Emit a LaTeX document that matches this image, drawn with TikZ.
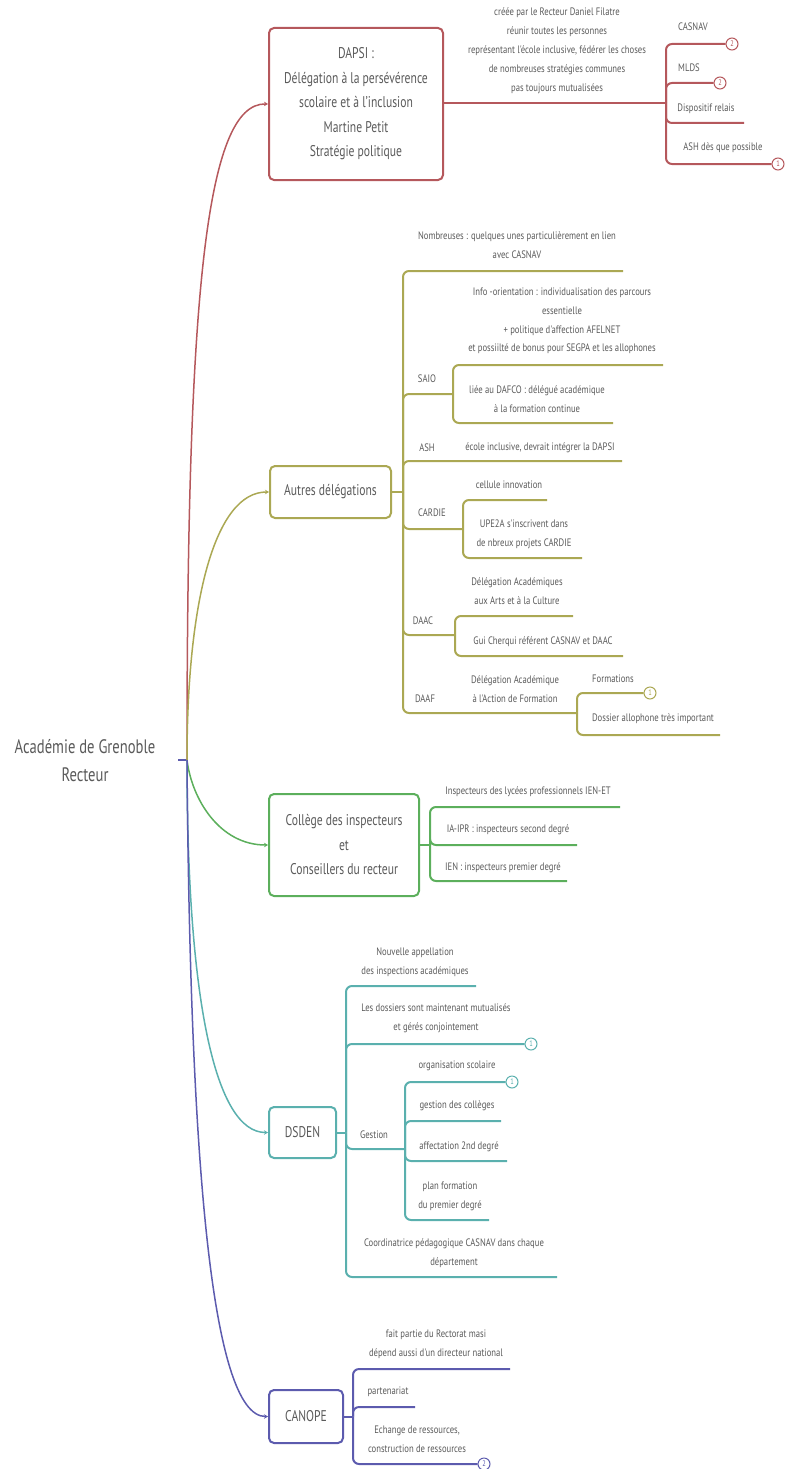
\documentclass[tikz,border=0pt]{standalone}
\usepackage{fontspec}
\setmainfont{PT Sans}[FakeStretch=0.75]
\newfontfamily\leaffont{PT Sans}[FakeStretch=0.8]
\usetikzlibrary{arrows.meta}
\definecolor{cR}{HTML}{B5585C}
\definecolor{cO}{HTML}{ABA853}
\definecolor{cG}{HTML}{5CAF5C}
\definecolor{cT}{HTML}{5AB0AE}
\definecolor{cI}{HTML}{5C5BAE}
\definecolor{txt}{HTML}{5A5A5A}
\tikzset{
  x=1pt, y=-1pt,
  every node/.style={text=txt, inner sep=0pt},
  leaf/.style={align=center, font=\leaffont\fontsize{10.8}{19}\selectfont},
  mainbox/.style={draw, rounded corners=5pt, line width=2pt, align=center, font=\fontsize{15.5}{24.5}\selectfont},
  branch/.style={line width=2pt, rounded corners=6pt},
  curve/.style={line width=1.5pt, -{Stealth[length=4pt,width=4.5pt]}},
  badge/.style={circle, draw, fill=white, line width=1pt, minimum size=12pt, font=\leaffont\fontsize{8}{8}\selectfont},
}
\begin{document}
\begin{tikzpicture}
\useasboundingbox (0,0) rectangle (786,1469);
% root
\node[align=center, font=\fontsize{19.5}{28}\selectfont] (root) at (85,761) {Académie de Grenoble\\Recteur};
\coordinate (rootR) at (187,760);
\coordinate (rootL) at (178,760);
\draw[cI, line width=2pt] (rootL) -- (rootR);

% main boxes
\node[mainbox, draw=cR, minimum width=174pt, minimum height=152pt] (dapsi) at (356,104)
  {DAPSI :\\Délégation à la persévérence\\scolaire et à l'inclusion\\Martine Petit\\Stratégie politique};
\node[mainbox, draw=cO, minimum width=121pt, minimum height=52pt] (autres) at (330.5,492) {Autres délégations};
\node[mainbox, draw=cG, minimum width=150pt, minimum height=102pt] (college) at (344,845)
  {Collège des inspecteurs\\et\\Conseillers du recteur};
\node[mainbox, draw=cT, minimum width=67pt, minimum height=51pt] (dsden) at (302.5,1132.5) {DSDEN};
\node[mainbox, draw=cI, minimum width=74pt, minimum height=53pt] (canope) at (306,1416.5) {CANOPE};

% curves from root
\draw[cR, curve] (rootR) .. controls (187,300) and (205,103) .. (dapsi.west);
\draw[cO, curve] (rootR) .. controls (187,600) and (215,492) .. (autres.west);
\draw[cG, curve] (rootR) .. controls (192,800) and (220,845) .. (college.west);
\draw[cT, curve] (rootR) .. controls (187,1000) and (215,1132.5) .. (dsden.west);
\draw[cI, curve] (rootR) .. controls (190,1150) and (210,1416.5) .. (canope.west);

% ===== DAPSI =====
\node[leaf] (dapsidesc) at (557,51) {créée par le Recteur Daniel Filatre\\réunir toutes les personnes\\représentant l'école inclusive, fédérer les choses\\de nombreuses stratégies communes\\pas toujours mutualisées};
\coordinate (dB) at (666,103);
\draw[cR, branch] (dapsi.east |- dB) -- (dB);
\node[leaf] (casnav) at (693,27) {CASNAV};
\node[badge, draw=cR, text=cR] (bcasnav) at (732,44) {2};
\draw[cR, branch] (dB) |- (bcasnav.west);
\node[leaf] (mlds) at (689,68) {MLDS};
\node[badge, draw=cR, text=cR] (bmlds) at (720,83) {2};
\draw[cR, branch] (dB) |- (bmlds.west);
\node[leaf] (relais) at (706,109) {Dispositif relais};
\coordinate (erelais) at (744,123);
\draw[cR, branch] (dB) |- (erelais);
\node[leaf] (ashd) at (723,148) {ASH dès que possible};
\node[badge, draw=cR, text=cR] (bashd) at (778,164) {1};
\draw[cR, branch] (dB) |- (bashd.west);

% ===== Autres délégations =====
\coordinate (aB) at (403,492);
\draw[cO, branch] (autres.east) -- (aB);
\node[leaf] (nomb) at (517,245.5) {Nombreuses : quelques unes particulièrement en lien\\avec CASNAV};
\coordinate (enomb) at (623,271);
\draw[cO, branch] (aB) |- (enomb);
% SAIO
\node[leaf] (saio) at (427,379) {SAIO};
\coordinate (sB) at (453,394);
\draw[cO, branch] (aB) |- (sB);
\node[leaf, font=\leaffont\fontsize{10.8}{18.7}\selectfont] (info) at (562,321) {Info -orientation : individualisation des parcours\\essentielle\\+ politique d'affection AFELNET\\et possiilté de bonus pour SEGPA et les allophones};
\coordinate (einfo) at (663,365);
\draw[cO, branch] (sB) |- (einfo);
\node[leaf] (dafco) at (537,399.5) {liée au DAFCO : délégué académique\\à la formation continue};
\coordinate (edafco) at (613,423);
\draw[cO, branch] (sB) |- (edafco);
% ASH
\node[leaf] (ash) at (427,448) {ASH};
\node[leaf] (ecole) at (540,448) {école inclusive, devrait intégrer la DAPSI};
\coordinate (eash) at (622,461);
\draw[cO, branch] (aB) |- (eash);
% CARDIE
\node[leaf] (cardie) at (432,513) {CARDIE};
\coordinate (cB) at (463,529);
\draw[cO, branch] (aB) |- (cB);
\node[leaf] (cellule) at (509,485) {cellule innovation};
\coordinate (ecell) at (547,500);
\draw[cO, branch] (cB) |- (ecell);
\node[leaf] (upe) at (524,534) {UPE2A s'inscrivent dans\\de nbreux projets CARDIE};
\coordinate (eupe) at (582,558);
\draw[cO, branch] (cB) |- (eupe);
% DAAC
\node[leaf] (daac) at (423,621) {DAAC};
\coordinate (dcB) at (455,635);
\draw[cO, branch] (aB) |- (dcB);
\node[leaf] (daacd) at (517,591.5) {Délégation Académiques\\aux Arts et à la Culture};
\coordinate (edaacd) at (573,616);
\draw[cO, branch] (dcB) |- (edaacd);
\node[leaf] (gui) at (543,642) {Gui Cherqui référent CASNAV et DAAC};
\coordinate (egui) at (623,656);
\draw[cO, branch] (dcB) |- (egui);
% DAAF
\node[leaf] (daaf) at (425,699) {DAAF};
\node[leaf] (daafd) at (515,689.5) {Délégation Académique\\à l'Action de Formation};
\coordinate (dfB) at (577,713);
\draw[cO, branch] (aB) |- (dfB);
\node[leaf] (form) at (613,679) {Formations};
\node[badge, draw=cO, text=cO] (bform) at (650,693) {1};
\draw[cO, branch] (dfB) |- (bform.west);
\node[leaf] (doss) at (653,719) {Dossier allophone très important};
\coordinate (edoss) at (720,735);
\draw[cO, branch] (dfB) |- (edoss);

% ===== Collège =====
\coordinate (gB) at (430,845);
\draw[cG, branch] (college.east) -- (gB);
\node[leaf] (ienet) at (528,792) {Inspecteurs des lycées professionnels IEN-ET};
\coordinate (eienet) at (620,807);
\draw[cG, branch] (gB) |- (eienet);
\node[leaf] (iaipr) at (508,830) {IA-IPR : inspecteurs second degré};
\coordinate (eiaipr) at (577,845);
\draw[cG, branch] (gB) |- (eiaipr);
\node[leaf] (ien) at (503,868) {IEN : inspecteurs premier degré};
\coordinate (eien) at (567,881);
\draw[cG, branch] (gB) |- (eien);

% ===== DSDEN =====
\coordinate (tB) at (346,1132.5);
\draw[cT, branch] (dsden.east) -- (tB);
\node[leaf] (nouv) at (415,962.5) {Nouvelle appellation\\des inspections académiques};
\coordinate (enouv) at (476,986);
\draw[cT, branch] (tB) |- (enouv);
\node[leaf] (lesdoss) at (436,1018.5) {Les dossiers sont maintenant mutualisés\\et gérés conjointement};
\node[badge, draw=cT, text=cT] (blesdoss) at (531,1044) {1};
\draw[cT, branch] (tB) |- (blesdoss.west);
\node[leaf] (gestion) at (374,1135) {Gestion};
\coordinate (geB) at (405,1149);
\draw[cT, branch] (tB) |- (geB);
\node[leaf] (orga) at (457,1066) {organisation scolaire};
\node[badge, draw=cT, text=cT] (borga) at (512,1082) {1};
\draw[cT, branch] (geB) |- (borga.west);
\node[leaf] (gcol) at (457,1106) {gestion des collèges};
\coordinate (egcol) at (501,1121);
\draw[cT, branch] (geB) |- (egcol);
\node[leaf] (affect) at (459,1147) {affectation 2nd degré};
\coordinate (eaffect) at (507,1161);
\draw[cT, branch] (geB) |- (eaffect);
\node[leaf] (plan) at (450,1196.5) {plan formation\\du premier degré};
\coordinate (eplan) at (489,1220);
\draw[cT, branch] (geB) |- (eplan);
\node[leaf] (coord) at (454,1253) {Coordinatrice pédagogique CASNAV dans chaque\\département};
\coordinate (ecoord) at (557,1277);
\draw[cT, branch] (tB) |- (ecoord);

% ===== CANOPE =====
\coordinate (iB) at (353,1416.5);
\draw[cI, branch] (canope.east) -- (iB);
\node[leaf] (fait) at (436,1344.5) {fait partie du Rectorat masi\\dépend aussi d'un directeur national};
\coordinate (efait) at (510,1369);
\draw[cI, branch] (iB) |- (efait);
\node[leaf] (part) at (388,1392) {partenariat};
\coordinate (epart) at (415,1407);
\draw[cI, branch] (iB) |- (epart);
\node[leaf] (echange) at (417,1439) {Echange de ressources,\\construction de ressources};
\node[badge, draw=cI, text=cI] (bech) at (484,1464) {2};
\draw[cI, branch] (iB) |- (bech.west);
\end{tikzpicture}
\end{document}
